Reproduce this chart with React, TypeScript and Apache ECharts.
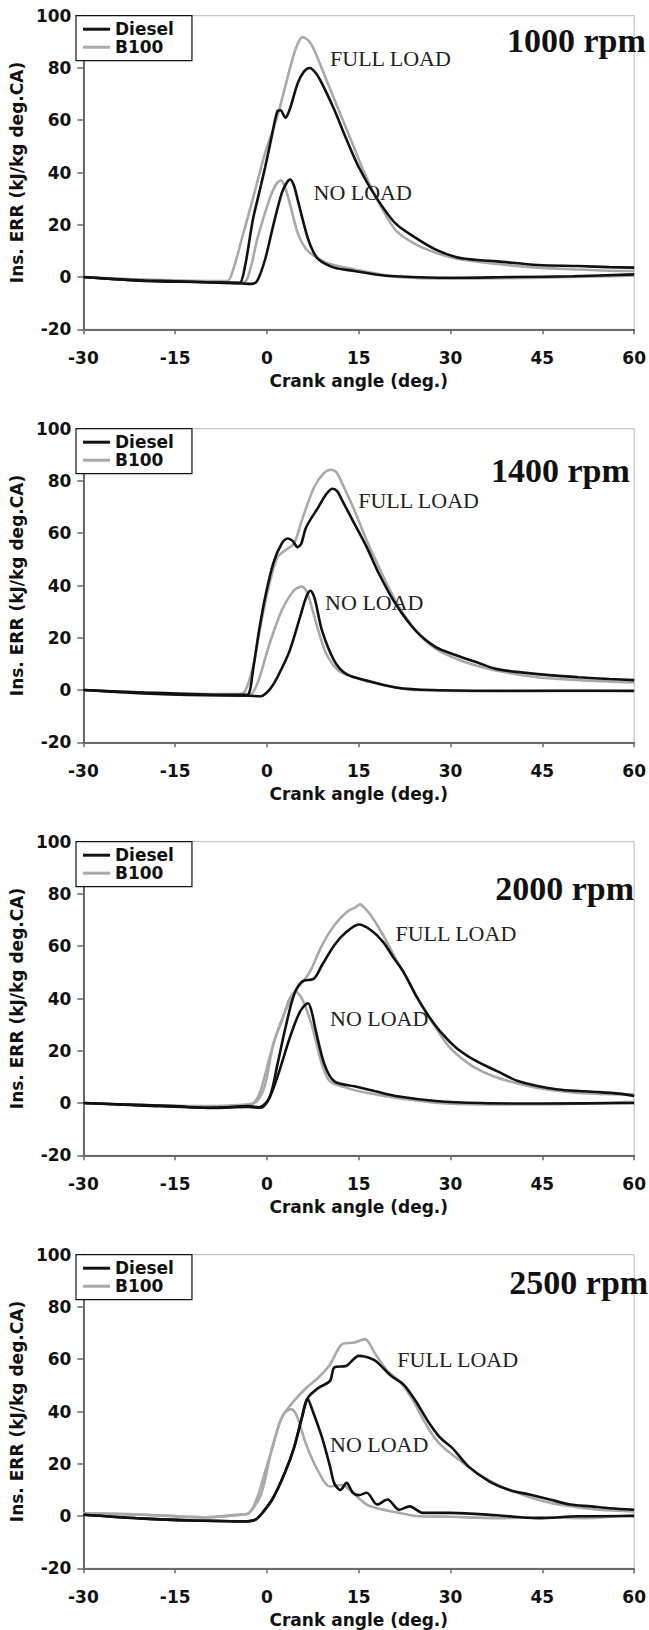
import React, { useEffect, useRef } from "react";
import * as echarts from "echarts";

// ---------- data (crank angle deg., Ins. ERR kJ/kg deg.CA) ----------
const X_TICKS = [-30, -15, 0, 15, 30, 45, 60];
const Y_TICKS = [-20, 0, 20, 40, 60, 80, 100];
const RPM_LABELS = ["1000 rpm", "1400 rpm", "2000 rpm", "2500 rpm"];
const LEGEND_NAMES = ["Diesel", "B100"];

// 1000 rpm
const P1_DIESEL_FULL = [[-30,0],[-25,-0.8],[-20,-1.3],[-15,-1.6],[-10,-2],[-6,-2.2],[-4.5,-2.3],[-3.6,4],[-2.3,22],[-1.3,32],[-0.3,42],[0.7,53],[1.7,63.5],[2.2,63.8],[3,61],[3.7,64],[5,74],[6,78.5],[7,80],[8,78],[9,74],[11,64],[13,52.6],[15,42],[17.7,31],[21,20.5],[24.3,15],[27.6,10.5],[31,7.6],[34,6.6],[37.6,6],[44.2,4.6],[50.9,4.2],[56,3.8],[60,3.6]];
const P1_DIESEL_NO = [[-30,0],[-20,-1.5],[-10,-2],[-4,-2.5],[-2.5,-2.6],[-1.6,-1.5],[-0.3,6.8],[1,19.5],[2.4,32],[3.2,36],[3.8,37.3],[4.4,35],[5,29.7],[6.4,17],[7.3,11],[8.4,6.8],[11,3.6],[14.3,2.3],[17.7,1],[21,0.3],[30,-0.3],[40,0],[50,0.3],[60,1]];
const P1_B100_FULL = [[-30,0],[-20,-1],[-10,-1.5],[-6.5,-1.5],[-5.5,3],[-4.3,13],[-2.3,30],[-0.3,47.5],[1.7,61.5],[3.7,79.4],[4.8,88],[5.8,91.8],[6.8,90.5],[7.7,87],[9.7,75.5],[11.7,64],[13.7,52.6],[15.7,41],[17.7,31],[21,18],[24.3,12.5],[27.6,9.3],[31,7],[37.6,5],[44.2,3.6],[50.9,2.9],[55,2.5],[60,2.3]];
const P1_B100_NO = [[-30,0],[-20,-1.2],[-10,-1.8],[-4,-2],[-3.3,-1],[-2.5,5],[-1.6,14.4],[0.4,29.7],[1.5,35.5],[2.3,37],[3,34],[3.7,28.4],[5,17],[6,12],[7,9.3],[9.7,5.5],[14.3,2.9],[21,0.1],[30,-0.6],[40,-0.4],[50,0],[60,0.5]];

// 1400 rpm
const P2_DIESEL_FULL = [[-30,0],[-20,-1],[-15,-1.3],[-8,-1.8],[-4,-1.8],[-3,-1.5],[-2.3,7.4],[-1.3,22.7],[-0.3,35.5],[1,48.3],[2.4,56],[3.4,58],[4.2,57],[5,54.7],[5.6,56],[6.4,62.3],[8.4,70],[9.7,75],[10.7,77],[11.5,76],[12.3,72.5],[14.3,63.6],[16.3,54.7],[18.3,44.5],[21,33],[24.3,22.7],[27.6,16.4],[31,13.2],[34.3,10.6],[37.6,8],[44.2,6.1],[50.9,4.9],[56,4.2],[60,3.8]];
const P2_DIESEL_NO = [[-30,0],[-20,-1.3],[-10,-2],[-3,-2.2],[-1,-2.4],[-0.3,-1.5],[0.7,1],[1.7,4.9],[3.7,15],[5.4,27.9],[6.4,35.5],[7.1,38],[7.8,35],[9,22.7],[11,11.2],[13,6.1],[16.3,3.6],[21,1],[27,0],[40,-0.3],[50,-0.3],[60,-0.3]];
const P2_B100_FULL = [[-30,0],[-20,-1],[-10,-1.5],[-4.5,-1.5],[-3.6,-0.5],[-2.3,8.7],[-1,25.3],[0.4,40.6],[1.7,50.8],[3,53.5],[4.4,56],[5.7,64.9],[7.7,77.6],[9.3,83],[10.4,84.3],[11.3,83.5],[12.3,79],[14.3,68.7],[16.3,57.2],[18.3,47],[21,34.2],[24.3,22.7],[27.6,15.7],[31,11.9],[34.3,9.3],[37.6,7.4],[44.2,4.9],[50.9,3.8],[60,2.9]];
const P2_B100_NO = [[-30,0],[-20,-1.2],[-10,-1.8],[-3,-2.2],[-1.6,2.3],[0.4,17.6],[2.4,30.4],[4.4,38.1],[5.7,39.6],[6.4,38],[7,34.2],[8.4,22.7],[9.7,13.8],[11.7,7.4],[14.3,4.9],[17.7,2.6],[24.3,0],[40,-0.5],[50,-0.3],[60,-0.5]];

// 2000 rpm
const P3_DIESEL_FULL = [[-30,0],[-20,-0.8],[-15,-1.2],[-9,-1.9],[-3,-1.2],[-1.3,-1.6],[0.4,2],[1.7,14.7],[3,28.6],[4.4,41.3],[5.7,46.4],[7.7,47.7],[9,52.8],[11,60.4],[13,65.5],[15,68.3],[17,66.1],[19,61.6],[20.6,55.9],[22.3,50.2],[24.3,41.3],[26.3,33.7],[28.3,27.4],[31,21],[34.3,15.9],[37.6,12.2],[41,8.4],[44.2,6.5],[47.6,5.2],[50.9,4.6],[54.2,4.2],[57.5,3.6],[60,2.7]];
const P3_DIESEL_NO = [[-30,0],[-20,-1],[-10,-1.8],[-3,-1.5],[-1,-1.8],[0.4,2],[2,12.1],[3.7,24.8],[5.4,35],[6.7,38.2],[7.3,35],[8,27.4],[9.4,14.7],[11,8.3],[14.3,6.4],[17.7,4.5],[21,2.7],[27.6,0.8],[35,0],[45,-0.2],[60,0]];
const P3_B100_FULL = [[-30,0],[-20,-0.8],[-10,-1.2],[-3,-0.5],[-1.6,0.8],[-0.3,7],[1,22.3],[2.4,31.2],[3.7,40],[5,43.9],[7,50.2],[9,60.4],[11,68],[13,73],[14.5,75],[15.2,76],[16,74.5],[17,71.8],[19,64.2],[21,55.3],[23,47.2],[25,38.5],[27,31],[29.6,22],[33,15],[36.3,10.9],[39.6,8.3],[44.2,5.8],[50.9,3.9],[60,3.3]];
const P3_B100_NO = [[-30,0],[-20,-0.8],[-10,-1.5],[-3,-1.2],[-1.3,3.2],[0.4,17.2],[1.7,27.4],[3.7,38.8],[4.7,42.6],[5.7,40],[7.3,29.9],[9,14.7],[10.3,8.3],[13,5.8],[16.3,3.9],[21,2],[27.6,0.1],[35,-0.5],[45,-0.5],[60,0.5]];

// 2500 rpm
const P4_DIESEL_FULL = [[-30,0.5],[-20,-1],[-12.3,-1.7],[-6,-2],[-3.6,-2.1],[-2,-1.5],[-1,0.5],[1,6.9],[3,17],[4.4,26],[5.7,37.6],[6.7,45.3],[8.4,49],[10.3,51.7],[11,56.8],[13,57.5],[15,61.3],[16,61],[17.7,59.4],[20.3,53.6],[22.3,50.4],[24.3,44],[26.3,36.3],[28.3,30],[30.3,26],[32.9,19],[36.3,13.3],[39.6,10],[42.9,8.2],[46.2,6.3],[49.6,4.4],[52.9,3.7],[56,3],[60,2.4]];
const P4_DIESEL_NO = [[-30,0.5],[-20,-1],[-12,-1.7],[-4,-2],[-2,-1.5],[-1,0.5],[1,6.9],[3,17],[4.4,26],[5.7,37.6],[6.6,45],[7.5,40],[9,30],[10.3,19],[11,12.5],[12,10],[13,12.7],[14,9],[15,8],[16.3,8.9],[18,4.4],[19.7,6.3],[21.6,2.4],[23.3,3.7],[25.5,1.2],[30,1.2],[37.6,0.3],[44.2,-0.8],[50.9,-0.1],[60,0]];
const P4_B100_FULL = [[-30,1],[-20,0.5],[-10,-0.5],[-5,0.5],[-3,1],[-1.6,7],[-0.3,17],[1,27],[2.4,37.6],[4.4,44],[6.4,49],[8.4,53],[10.3,58],[12.3,65.8],[14.3,66.4],[16,67.7],[17.7,62],[19.7,55.5],[21.6,51.7],[23.6,45.3],[26.3,33.8],[28.3,27.4],[31,22.2],[34.3,16.5],[37.6,12],[41,8.8],[44.2,6.3],[47.6,4.4],[54.2,2.4],[60,1.8]];
const P4_B100_NO = [[-30,1],[-20,0.5],[-10,-0.5],[-4,0.5],[-3,1],[-1,8],[0.7,24.8],[2.4,37.6],[3.7,40.8],[4.3,40.5],[5,37.6],[6.4,27.4],[8.4,17],[10.3,11.3],[12.3,11.9],[14.3,8.2],[16.3,4.4],[18,3],[21.6,1.2],[24.3,0],[30,-0.3],[37.6,-0.8],[45,-0.5],[52,-0.8],[60,0.5]];

// annotation anchors (data coords: left x, middle y)
const FULL_LOAD_POS = [[10.3, 83.8], [14.9, 72.5], [21, 64.8], [21.3, 60]];
const NO_LOAD_POS = [[7.6, 32.2], [9.5, 33.6], [10.3, 32.4], [10.3, 27.4]];
const RPM_POS = [[39.2, 90.5], [36.6, 84], [37.3, 82], [39.6, 89.5]];

const PANELS = [
  { dFull: P1_DIESEL_FULL, dNo: P1_DIESEL_NO, bFull: P1_B100_FULL, bNo: P1_B100_NO },
  { dFull: P2_DIESEL_FULL, dNo: P2_DIESEL_NO, bFull: P2_B100_FULL, bNo: P2_B100_NO },
  { dFull: P3_DIESEL_FULL, dNo: P3_DIESEL_NO, bFull: P3_B100_FULL, bNo: P3_B100_NO },
  { dFull: P4_DIESEL_FULL, dNo: P4_DIESEL_NO, bFull: P4_B100_FULL, bNo: P4_B100_NO },
];

const BLACK = "#111111";
const GRAY = "#a9a9a9";
const SANS = "DejaVu Sans";
const SERIF = "Liberation Serif";
const AXIS_COLOR = "#6a6a6a";

const GRID_LEFT = 76;
const GRID_WIDTH = 561;
const GRID_TOP0 = 15.7;
const GRID_STEP = 413;
const GRID_HEIGHT = 313.6;

export default function App() {
  const ref = useRef<HTMLDivElement>(null);

  useEffect(() => {
    if (!ref.current) return;
    const chart = echarts.init(ref.current, null, { renderer: "svg" });

    const grids = PANELS.map((_, k) => ({
      left: GRID_LEFT,
      width: GRID_WIDTH,
      top: GRID_TOP0 + GRID_STEP * k,
      height: GRID_HEIGHT,
      show: true,
      borderColor: "#b8b8b8",
      borderWidth: 1,
      backgroundColor: "transparent",
    }));

    const labelStyle = { color: "#111", fontFamily: SANS, fontWeight: "bold" as const, fontSize: 17 };

    const xAxes = PANELS.map((_, k) => ({
      type: "value" as const,
      gridIndex: k,
      min: X_TICKS[0],
      max: X_TICKS[X_TICKS.length - 1],
      interval: X_TICKS[1] - X_TICKS[0],
      axisLine: { show: true, onZero: false, lineStyle: { color: AXIS_COLOR, width: 2 } },
      axisTick: { show: true, inside: false, length: 5, lineStyle: { color: AXIS_COLOR, width: 1.5 } },
      axisLabel: { ...labelStyle, margin: 20 },
      splitLine: { show: false },
      name: "Crank angle (deg.)",
      nameLocation: "middle" as const,
      nameGap: 43,
      nameTextStyle: { ...labelStyle },
    }));

    const yAxes = PANELS.map((_, k) => ({
      type: "value" as const,
      gridIndex: k,
      min: Y_TICKS[0],
      max: Y_TICKS[Y_TICKS.length - 1],
      interval: Y_TICKS[1] - Y_TICKS[0],
      axisLine: { show: true, onZero: false, lineStyle: { color: AXIS_COLOR, width: 2 } },
      axisTick: { show: true, inside: false, length: 6, lineStyle: { color: AXIS_COLOR, width: 1.5 } },
      axisLabel: { ...labelStyle, margin: 12 },
      splitLine: { show: false },
      name: "Ins. ERR (kJ/kg deg.CA)",
      nameLocation: "middle" as const,
      nameGap: 48,
      nameRotate: 90,
      nameTextStyle: { ...labelStyle },
    }));

    const mk = (name: string, color: string, data: number[][], k: number) => ({
      type: "line" as const,
      name,
      xAxisIndex: k,
      yAxisIndex: k,
      data,
      showSymbol: false,
      symbol: "none",
      smooth: 0.3,
      lineStyle: { color, width: 2.6 },
      itemStyle: { color },
      z: color === BLACK ? 3 : 2,
    });

    const series: any[] = [];
    PANELS.forEach((p, k) => {
      series.push(mk("B100", GRAY, p.bFull, k));
      series.push(mk("B100", GRAY, p.bNo, k));
      series.push(mk("Diesel", BLACK, p.dFull, k));
      series.push(mk("Diesel", BLACK, p.dNo, k));
    });

    const legends = PANELS.map((_, k) => ({
      data: LEGEND_NAMES,
      left: GRID_LEFT,
      top: GRID_TOP0 + GRID_STEP * k,
      orient: "vertical" as const,
      icon: "rect",
      itemWidth: 27,
      itemHeight: 3,
      itemGap: 1,
      padding: [5, 18, 5, 7],
      borderColor: "#111",
      borderWidth: 1.2,
      backgroundColor: "#fff",
      selectedMode: false,
      textStyle: { ...labelStyle },
      z: 10,
    }));

    chart.setOption({
      animation: false,
      backgroundColor: "#fff",
      grid: grids,
      xAxis: xAxes,
      yAxis: yAxes,
      legend: legends,
      series,
    });

    const graphic: any[] = [];
    PANELS.forEach((_, k) => {
      const f = chart.convertToPixel({ gridIndex: k }, FULL_LOAD_POS[k]) as number[];
      const n = chart.convertToPixel({ gridIndex: k }, NO_LOAD_POS[k]) as number[];
      const r = chart.convertToPixel({ gridIndex: k }, RPM_POS[k]) as number[];
      graphic.push({
        type: "text",
        x: f[0],
        y: f[1],
        z: 20,
        style: { text: "FULL LOAD", fill: "#222", font: `22px "${SERIF}"`, textAlign: "left", textVerticalAlign: "middle" },
      });
      graphic.push({
        type: "text",
        x: n[0],
        y: n[1],
        z: 20,
        style: { text: "NO LOAD", fill: "#222", font: `22px "${SERIF}"`, textAlign: "left", textVerticalAlign: "middle" },
      });
      graphic.push({
        type: "text",
        x: r[0],
        y: r[1],
        z: 20,
        style: { text: RPM_LABELS[k], fill: "#111", font: `bold 34px "${SERIF}"`, textAlign: "left", textVerticalAlign: "middle" },
      });
    });
    chart.setOption({ graphic });

    return () => chart.dispose();
  }, []);

  return (
    <div
      ref={ref}
      style={{ position: "absolute", left: 0, top: 0, width: 649, height: 1630, background: "#fff" }}
    />
  );
}
